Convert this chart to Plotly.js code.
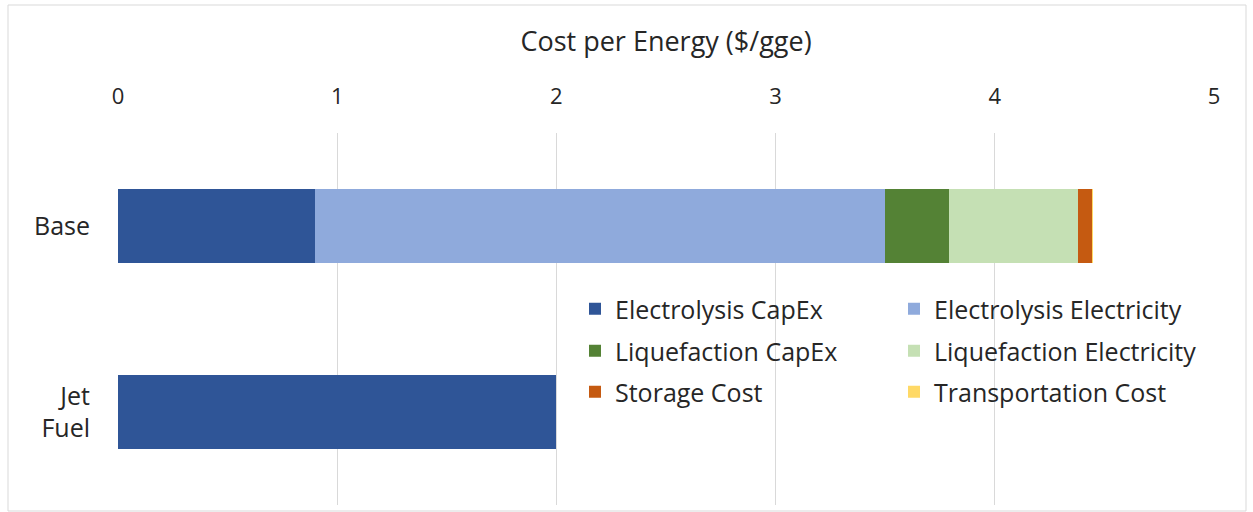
<!DOCTYPE html>
<html>
<head>
<meta charset="utf-8">
<script src="https://cdn.plot.ly/plotly-3.0.1.min.js"></script>
<style>html,body{margin:0;padding:0;background:#fff}#chart{width:1253px;height:512px}</style>
</head>
<body>
<div id="chart"></div>
<script>
const categories = ["Base", "Jet<br>Fuel"];
const seriesNames = ["Electrolysis CapEx", "Electrolysis Electricity", "Liquefaction CapEx", "Liquefaction Electricity", "Storage Cost", "Transportation Cost"];
const electrolysisCapEx = [0.90, 2.00];
const electrolysisElectricity = [2.60, 0];
const liquefactionCapEx = [0.29, 0];
const liquefactionElectricity = [0.59, 0];
const storageCost = [0.065, 0];
const transportationCost = [0.005, 0];
const xTicks = [0, 1, 2, 3, 4, 5];

const seriesValues = [electrolysisCapEx, electrolysisElectricity, liquefactionCapEx, liquefactionElectricity, storageCost, transportationCost];
const colors = ["#2F5597", "#8FAADC", "#548235", "#C5E0B4", "#C55A11", "#FFD966"];
const legendIds = ["legend", "legend", "legend2", "legend2", "legend3", "legend3"];

const FONT = "'Open Sans', Lato, sans-serif";
const TXT = "#262626";

const traces = seriesNames.map((n, i) => ({
  type: "bar",
  orientation: "h",
  name: n,
  x: seriesValues[i],
  y: categories,
  marker: {color: colors[i], line: {width: 0}},
  legend: legendIds[i],
  hoverinfo: "x+name"
}));

const W = 1253, H = 512;
const L = 118, R = 39, T = 133, B = 7;
const pw = W - L - R, ph = H - T - B;
const px = v => (v - L) / pw;
const py = v => (H - B - v) / ph;

const legendBase = {
  orientation: "h",
  entrywidth: 274,
  entrywidthmode: "pixels",
  font: {family: FONT, size: 25, color: TXT},
  bgcolor: "rgba(0,0,0,0)",
  xanchor: "left",
  yanchor: "middle",
  traceorder: "normal"
};

const layout = {
  width: W, height: H,
  margin: {l: L, r: R, t: T, b: B, autoexpand: false},
  paper_bgcolor: "#fff",
  plot_bgcolor: "#fff",
  barmode: "stack",
  bargap: 0.6,
  font: {family: FONT, color: TXT},
  xaxis: {
    side: "top",
    range: [0, 5],
    tickvals: xTicks,
    ticktext: xTicks.map(String),
    showgrid: true,
    gridcolor: "#d9d9d9",
    gridwidth: 1,
    zeroline: false,
    showline: false,
    ticks: "",
    ticklabelstandoff: 24,
    tickfont: {family: FONT, size: 22, color: TXT},
    title: {text: "Cost per Energy ($/gge)", font: {family: FONT, size: 27, color: TXT}, standoff: 20}
  },
  yaxis: {
    type: "category",
    autorange: "reversed",
    showgrid: false,
    zeroline: false,
    showline: false,
    ticks: "",
    ticklabelstandoff: 27,
    tickfont: {family: FONT, size: 25, color: TXT}
  },
  legend: Object.assign({}, legendBase, {x: px(575), y: py(309)}),
  legend2: Object.assign({}, legendBase, {x: px(575), y: py(351)}),
  legend3: Object.assign({}, legendBase, {x: px(575), y: py(392)}),
  shapes: [{
    type: "rect", xref: "paper", yref: "paper",
    x0: px(8), x1: px(1246), y0: py(511), y1: py(5),
    line: {color: "#d9d9d9", width: 1}, fillcolor: "rgba(0,0,0,0)", layer: "below"
  }]
};

Plotly.newPlot("chart", traces, layout, {displayModeBar: false, staticPlot: true});
</script>
</body>
</html>
